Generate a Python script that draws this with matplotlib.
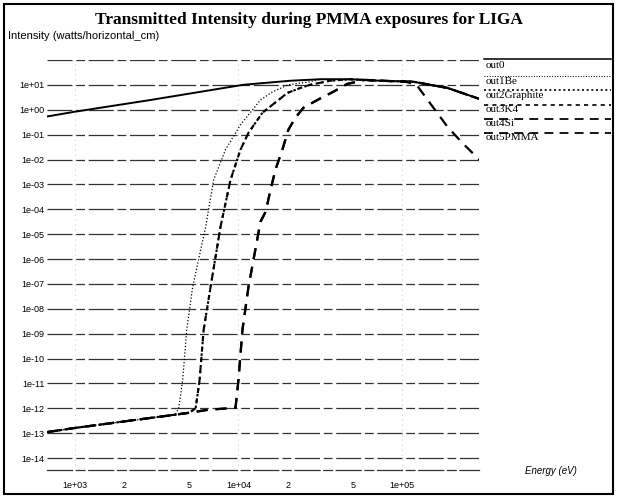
import matplotlib.pyplot as plt
from matplotlib.patches import Rectangle

# values (energy in eV, intensity in W/horizontal cm)
e_out0 = [674, 986, 2905, 10730, 20750, 31620, 48190, 73800, 117500, 189700, 298000]
out0 = [0.54, 0.83, 2.5, 10.2, 14.8, 17.0, 17.0, 14.8, 13.5, 7.6, 2.75]

e_out1 = [674, 986, 2905, 4100, 4306, 4560, 4820, 5245, 6300, 7045, 8325, 10280,
          13640, 16140, 20230, 27500, 31620, 48190, 73800, 117500, 189700, 298000]
out1Be = [1.1e-13, 1.6e-13, 4.1e-13, 5.5e-13, 1.0e-12, 1.4e-11, 1.4e-09, 7.6e-08,
          2.0e-05, 1.5e-03, 2.5e-02, 0.25, 2.5, 5.3, 10.2, 13.5, 17.0, 17.0, 14.8, 13.5,
          7.6, 2.75]

e_out2 = [674, 986, 2905, 5000, 5470, 5785, 6120, 6750, 7765, 8935, 10285, 11510,
          14010, 16140, 19930, 23930, 27500, 36390, 48190, 73800, 117500, 189700, 298000]
out2Graphite = [1.1e-13, 1.6e-13, 4.1e-13, 6.6e-13, 1.0e-12, 1.4e-11, 1.4e-09, 7.6e-08,
                2.0e-05, 1.5e-03, 2.5e-02, 0.12, 0.76, 1.6, 4.8, 7.6, 10.2, 14.8, 17.0,
                14.8, 13.5, 7.6, 2.75]
out3K4 = list(out2Graphite)

e_out4 = [674, 986, 2905, 5000, 6500, 9590, 10000, 10570, 11510, 13640, 14650, 15700,
          16820, 18560, 20200, 22300, 24910, 30390, 37950, 46220, 59470, 73800, 117500,
          189700, 298000]
out4Si = [1.1e-13, 1.6e-13, 4.1e-13, 6.6e-13, 8.7e-13, 1.05e-12, 1.4e-11, 1.4e-09,
          7.6e-08, 3.2e-05, 7.9e-05, 6.0e-04, 3.9e-03, 2.5e-02, 0.16, 0.48, 1.2, 2.5,
          5.3, 11.0, 16.0, 14.8, 13.5, 7.6, 2.75]

e_out5 = e_out4[:-3] + [105000, 122700, 189700, 234000, 298000]
out5PMMA = out4Si[:-3] + [13.6, 10.2, 0.21, 0.047, 9.8e-03]

y_ticks = [10.0 ** k for k in range(1, -15, -1)]
y_labels = ['1e%+03d' % k if k < 0 else '1e+%02d' % k for k in range(1, -15, -1)]
x_ticks = [1e3, 2e3, 5e3, 1e4, 2e4, 5e4, 1e5]
x_labels = ['1e+03', '2', '5', '1e+04', '2', '5', '1e+05']

series = [
    ('out0', e_out0, out0, '-', 1.4),
    ('out1Be', e_out1, out1Be, (0, (1, 1.6)), 0.9),
    ('out2Graphite', e_out2, out2Graphite, (0, (1.2, 1.6)), 1.5),
    ('out3K4', e_out2, out3K4, (0, (2.5, 2.5)), 1.5),
    ('out4Si', e_out4, out4Si, (0, (5, 3.5)), 1.6),
    ('out5PMMA', e_out5, out5PMMA, (0, (5, 3.5)), 1.6),
]

W, H = 618, 499
fig = plt.figure(figsize=(W / 100, H / 100), dpi=100)
ax = fig.add_axes([47 / W, 1 - 470 / H, (479 - 47) / W, (470 - 60) / H])
ax.set_xscale('log')
ax.set_yscale('log')
ax.set_xlim(674, 2.96e5)
ax.set_ylim(3.3e-15, 101)

# broken-looking decade grid like the scanned original
for k in range(-14, 3):
    ax.axhline(10.0 ** k, color='#333333', lw=0.9, ls=(0, (20, 3, 7, 3)), zorder=1)
for xv in [1e3, 1e4, 1e5]:
    ax.axvline(xv, color='#aaaaaa', lw=0.6, ls=(0, (1, 5)), zorder=1)

for name, e, v, ls, lw in series:
    ax.plot(e, v, color='black', ls=ls, lw=lw, zorder=3)

for s in ['left', 'right', 'top']:
    ax.spines[s].set_visible(False)
ax.spines['bottom'].set_color('#333333')
ax.spines['bottom'].set_linewidth(0.9)
ax.spines['bottom'].set_linestyle((0, (20, 3, 7, 3)))

ax.set_yticks(y_ticks)
ax.set_yticklabels(y_labels)
ax.set_xticks(x_ticks)
ax.set_xticklabels(x_labels)
ax.minorticks_off()
ax.tick_params(axis='both', length=0, labelsize=6.5)
ax.tick_params(axis='y', pad=2)
ax.tick_params(axis='x', pad=8)
for t in ax.get_xticklabels() + ax.get_yticklabels():
    t.set_fontfamily('Liberation Sans')

fig.text(0.5, 1 - 20 / H, 'Transmitted Intensity during PMMA exposures for LIGA',
         ha='center', va='center', fontsize=12.5, fontweight='bold', family='Liberation Serif')
fig.text(8 / W, 1 - 36 / H, 'Intensity (watts/horizontal_cm)', ha='left', va='center',
         fontsize=8, family='Liberation Sans')
fig.text(525 / W, 1 - 471 / H, 'Energy (eV)', ha='left', va='center',
         fontsize=7, style='italic', family='Liberation Sans')

# legend drawn the xgraph way: a line over each name
line_y = [59, 76, 90, 105, 119, 133]
text_y = [66, 82, 96, 110, 124, 138]
for (name, e, v, ls, lw), ly, ty in zip(series, line_y, text_y):
    fig.add_artist(plt.Line2D([484 / W, 611 / W], [1 - ly / H, 1 - ly / H],
                              color='black', ls=ls, lw=lw * 0.8))
    fig.text(486 / W, 1 - ty / H, name, ha='left', va='center', fontsize=8,
             family='Liberation Serif')

fig.add_artist(Rectangle((4 / W, 5 / H), 609 / W, 490 / H, transform=fig.transFigure,
                         fill=False, edgecolor='black', lw=1.5))

fig.savefig('out.png', dpi=100)
